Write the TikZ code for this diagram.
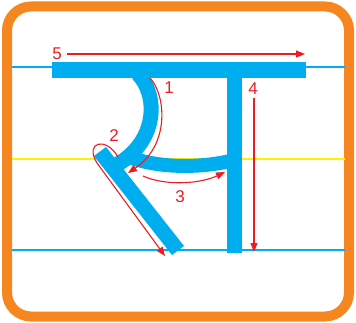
\documentclass[tikz,border=0pt]{standalone}
\usepackage{fontspec}
\setmainfont{Liberation Sans}
\usetikzlibrary{arrows.meta}
\definecolor{sky}{HTML}{00AEEF}
\definecolor{rim}{HTML}{F68620}
\definecolor{pen}{HTML}{ED1C24}
\definecolor{mid}{HTML}{FFF200}
\begin{document}
\begin{tikzpicture}[x=1pt, y=-1pt,
  guide/.style={line width=1.2pt},
  stroke/.style={sky, line width=15pt},
  arr/.style={pen, line width=1.1pt, -{Triangle[length=9pt,width=7pt]}},
  num/.style={text=pen, font=\fontsize{17}{17}\selectfont, inner sep=0pt}]
\useasboundingbox (0,0) rectangle (356,323);
% frame
\draw[rim, line width=10pt, rounded corners=24pt] (7,6.5) rectangle (349,316.5);
% guide lines
\draw[guide, sky] (12,67) -- (345,67);
\draw[guide, mid] (12,159) -- (345,159);
\draw[guide, sky] (12,250) -- (345,250);
% letter
\fill[sky] (52,62) rectangle (306,78);
\fill[sky] (227,78) rectangle (242,253);
\draw[stroke] (138,74) .. controls (158,95) and (158,140) .. (118,164);
\draw[stroke, line width=14pt] (132,158) .. controls (160,168) and (200,168) .. (230,161);
\fill[sky] (94,156) -- (106,147) -- (184,246) -- (172,255) -- cycle;
% stroke order
\draw[arr] (67,54) -- (305,54);
\draw[arr] (254,98) -- (254,252);
\draw[arr] (150,78) .. controls (166,95) and (170,145) .. (128,173);
\draw[arr] (118,157) .. controls (106,136) and (84,142) .. (97,163) -- (165,256);
\draw[arr] (143,176) .. controls (165,186) and (200,184) .. (225,172);
\node[num] (n1) at (169,88) {1};
\node[num] (n2) at (114,136) {2};
\node[num] (n3) at (180,197) {3};
\node[num] (n4) at (253,89) {4};
\node[num] (n5) at (57,54) {5};
\end{tikzpicture}
\end{document}
